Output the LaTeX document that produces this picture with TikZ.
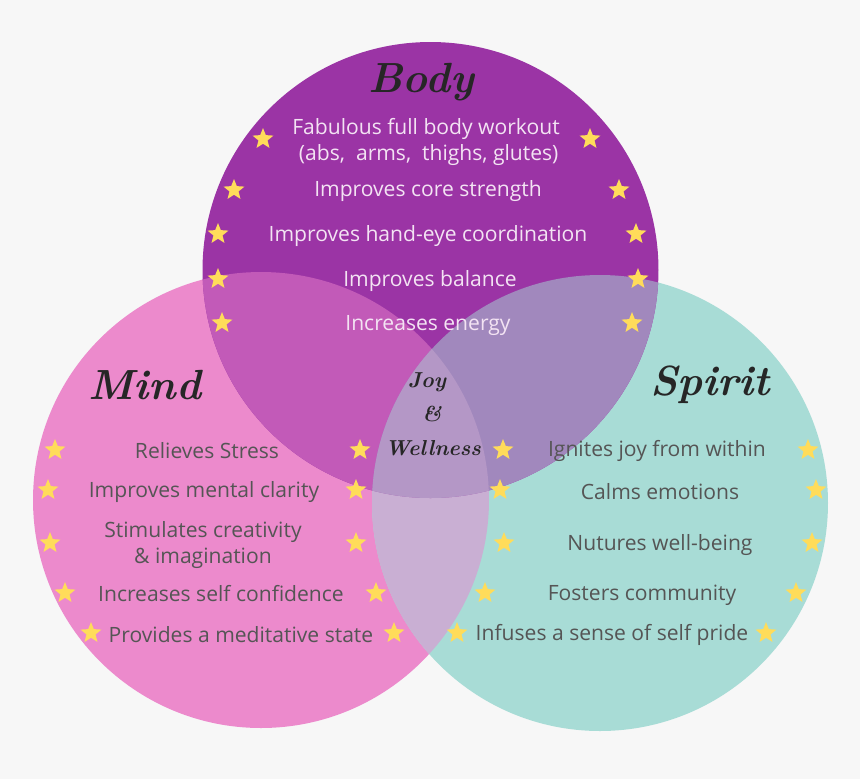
\documentclass[tikz,border=0pt]{standalone}
\usepackage{fontspec}
\setmainfont{Open Sans}
\newfontfamily\titlefont{Latin Modern Roman}
\usetikzlibrary{shapes.geometric}

\definecolor{backc}{HTML}{F7F7F7}
\definecolor{bodyc}{HTML}{9B34A5}
\definecolor{mindc}{HTML}{EC8ACC}
\definecolor{spiritc}{HTML}{A8DCD6}
\definecolor{bodymindc}{HTML}{C25AB8}
\definecolor{bodyspiritc}{HTML}{A188BD}
\definecolor{mindspiritc}{HTML}{C9AFD3}
\definecolor{centerc}{HTML}{B497C6}
\definecolor{starc}{HTML}{FFDC5A}
\definecolor{greytext}{HTML}{555555}
\definecolor{lighttext}{HTML}{F3E3F3}

\tikzset{
  staricon/.style={star,star points=5,star point ratio=2.3,fill=starc,
    minimum size=0.44cm,inner sep=0pt},
  item/.style={font=\fontsize{12}{14.3}\selectfont,text=greytext,align=center,inner sep=1pt},
  bodyitem/.style={item,text=lighttext},
  title/.style={font=\titlefont\bfseries\itshape\fontsize{24}{28}\selectfont,text=black!85},
  joy/.style={font=\titlefont\bfseries\itshape\fontsize{12.3}{15}\selectfont,text=black!85}
}

\begin{document}
\begin{tikzpicture}[x=0.02cm,y=-0.02cm]
\fill[backc] (0,0) rectangle (860,779);
\useasboundingbox (0,0) rectangle (860,779);

\coordinate (B) at (430.5,270);
\coordinate (M) at (261,500);
\coordinate (S) at (600,503);

\fill[mindc] (M) circle (228);
\fill[spiritc] (S) circle (228);
\fill[bodyc] (B) circle (228);
\begin{scope}
\clip (M) circle (228);
\fill[mindspiritc] (S) circle (228);
\fill[bodymindc] (B) circle (228);
\end{scope}
\begin{scope}
\clip (S) circle (228);
\fill[bodyspiritc] (B) circle (228);
\clip (M) circle (228);
\fill[centerc] (B) circle (228);
\end{scope}

\node[title] (body) at (421,82) {Body};
\node[title] (mind) at (145,385) {Mind};
\node[title] (spirit) at (710,385) {Spirit};

\node[joy] (joy) at (427,382) {Joy};
\node[joy] (amp) at (432,414) {\&};
\node[joy] (wellness) at (433,448) {Wellness};

\node[bodyitem] (b1) at (426,142) {Fabulous full body workout\\ \ (abs,\ \ arms,\ \ thighs, glutes)};
\node[bodyitem] (b2) at (428,191) {Improves core strength};
\node[bodyitem] (b3) at (428,236) {Improves hand-eye coordination};
\node[bodyitem] (b4) at (430,281) {Improves balance};
\node[bodyitem] (b5) at (428,325) {Increases energy};

\node[item] (m1) at (207,451) {Relieves Stress};
\node[item] (m2) at (204,492) {Improves mental clarity};
\node[item] (m3) at (203,545) {Stimulates creativity\\\& imagination};
\node[item] (m4) at (221,594) {Increases self confidence};
\node[item] (m5) at (241,635) {Provides a meditative state};

\node[item] (s1) at (657,451) {Ignites joy from within};
\node[item] (s2) at (660,492) {Calms emotions};
\node[item] (s3) at (660,545) {Nutures well-being};
\node[item] (s4) at (642,595) {Fosters community};
\node[item] (s5) at (612,635) {Infuses a sense of self pride};

\foreach \x/\y [count=\i] in {263/139,590/139,234/190,619/190,218/234,636/234,
  218/279,638/279,222/323,632/323,
  55/450,360/450,48/490,356/490,50/543,356/543,65/593,376/593,91/633,394/633,
  503/450,808/450,500/490,816/490,504/543,812/543,485/593,796/593,457/633,766/633}
  \node[staricon] (star\i) at (\x,\y) {};

\end{tikzpicture}
\end{document}
